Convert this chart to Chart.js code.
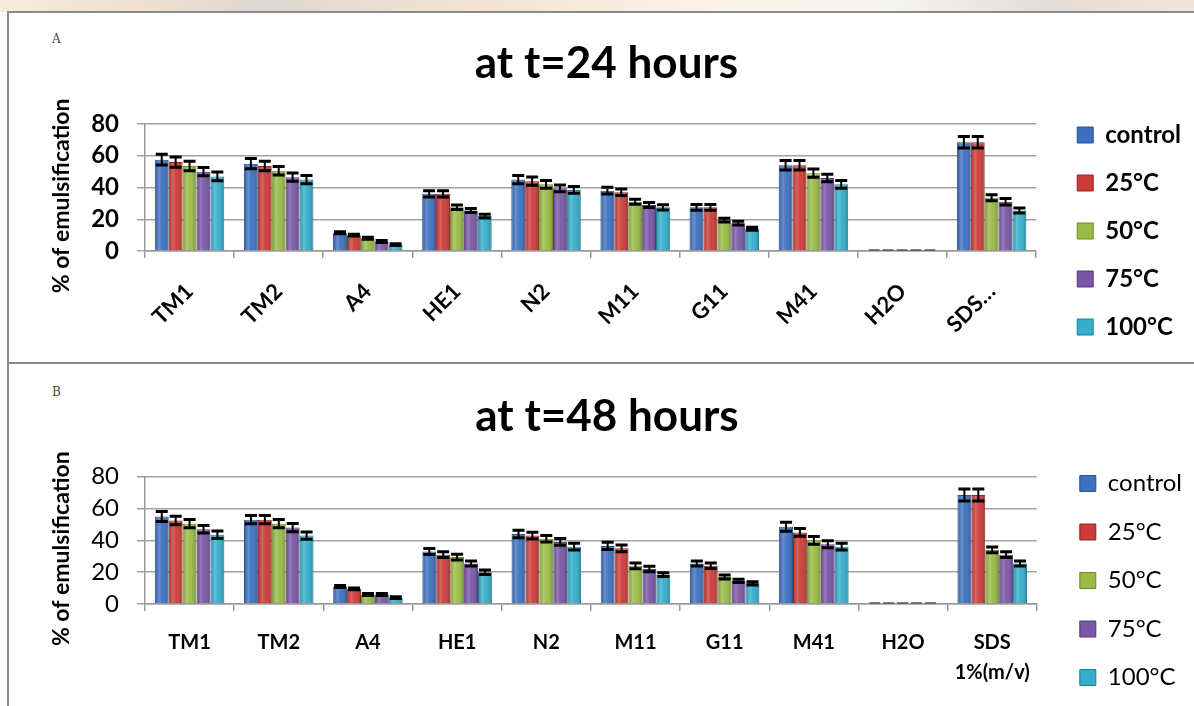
<!DOCTYPE html>
<html>
<head>
<meta charset="utf-8">
<script src="https://cdn.jsdelivr.net/npm/chart.js@4.4.1/dist/chart.umd.min.js"></script>
<style>
  html, body { margin: 0; padding: 0; width: 1194px; height: 706px; overflow: hidden; background: #fff; }
  #strip { position: absolute; left: 0; top: 0; width: 1194px; height: 12px;
    background: linear-gradient(90deg, #f6ecde 0%, #efe0cf 12%, #ded8d3 22%, #f3e4d2 40%, #fbf3ea 60%, #f7f3ef 75%, #e4dcd6 88%, #f0e6dc 100%); }
  .panel { position: absolute; left: 7px; width: 1190px; border-left: 2px solid #8a8a8a; border-top: 2px solid #8a8a8a; }
  #panelA { top: 11px; height: 350px; }
  #panelB { top: 362px; height: 344px; }
  canvas { position: absolute; left: 0; }
  #chartA { top: 0; }
  #chartB { top: 363px; }
  .tag { position: absolute; font-family: 'DejaVu Serif', serif; font-size: 12px; color: #444; }
</style>
</head>
<body>
<div id="strip"></div>
<div class="panel" id="panelA"></div>
<div class="panel" id="panelB"></div>
<div class="tag" style="left:52px; top:32px;">A</div>
<div class="tag" style="left:52px; top:385px;">B</div>
<canvas id="chartA" width="1194" height="363"></canvas>
<canvas id="chartB" width="1194" height="351"></canvas>
<script>
// categories
const labels24 = ['TM1', 'TM2', 'A4', 'HE1', 'N2', 'M11', 'G11', 'M41', 'H2O', 'SDS…'];
const labels48 = ['TM1', 'TM2', 'A4', 'HE1', 'N2', 'M11', 'G11', 'M41', 'H2O', ['SDS', '1%(m/v)']];
const seriesNames = ['control', '25°C', '50°C', '75°C', '100°C'];
const seriesColors = ['#3d70c0', '#cc3b36', '#98bb45', '#7956a6', '#33aecb'];
const seriesBorders = ['#27528f', '#922622', '#6d8a2c', '#553a7a', '#1f7f96'];
const yTicks = [0, 20, 40, 60, 80];

// t = 24 hours
const control24 = [57.5, 55, 11.5, 36, 45, 38, 27.5, 54, 0, 68.5];
const c25_24 = [56, 53.5, 10, 36, 44, 37, 27.5, 54, 0, 68.5];
const c50_24 = [53.5, 50.5, 8, 27.5, 42, 31, 19.5, 49, 0, 33.5];
const c75_24 = [50, 46.5, 6, 25.5, 39.5, 29, 17.5, 46, 0, 31];
const c100_24 = [47, 45, 4, 22, 38.5, 27.5, 14, 42, 0, 25.5];
const errControl24 = [3.4, 3.2, 0.6, 2, 2.6, 2.1, 1.8, 3, 0, 3.6];
const err25_24 = [3.2, 3, 0.6, 2, 2.6, 2.1, 1.8, 3, 0, 3.6];
const err50_24 = [3, 2.7, 0.6, 1.4, 2.4, 1.6, 1.2, 2.6, 0, 1.9];
const err75_24 = [2.6, 2.6, 0.6, 1.3, 2.1, 1.6, 1.2, 2.4, 0, 2];
const err100_24 = [2.7, 2.6, 0.6, 1.2, 2.1, 1.6, 1, 2.4, 0, 1.6];

// t = 48 hours
const control48 = [55, 53, 11, 33, 44, 36.5, 25.5, 48.5, 0, 68.5];
const c25_48 = [52.5, 53, 9.5, 31, 43, 35, 24, 45, 0, 68.5];
const c50_48 = [50.5, 50.5, 6, 29.5, 41, 24, 17, 40, 0, 34];
const c75_48 = [47, 48, 6, 25.5, 39, 22, 14.5, 37.5, 0, 31];
const c100_48 = [43.5, 43, 4, 20, 36, 18.5, 13, 36, 0, 25.5];
const errControl48 = [3.1, 2.6, 0.6, 1.9, 2.4, 2.3, 1.6, 2.8, 0, 3.7];
const err25_48 = [2.7, 2.6, 0.6, 1.8, 2.1, 2.1, 1.7, 2.5, 0, 3.7];
const err50_48 = [2.6, 2.6, 0.6, 1.8, 2.1, 1.8, 1.3, 2.4, 0, 1.8];
const err75_48 = [2.4, 2.6, 0.6, 1.6, 2.1, 1.7, 1, 2.2, 0, 1.8];
const err100_48 = [2.3, 2.3, 0.6, 1.4, 2.1, 1.2, 1, 2.1, 0, 1.6];

// shading + error bars drawn on top of the bars
const barExtras = {
  id: 'barExtras',
  afterDatasetsDraw(chart) {
    const ctx = chart.ctx;
    const yScale = chart.scales.y;
    chart.data.datasets.forEach((ds, i) => {
      const meta = chart.getDatasetMeta(i);
      meta.data.forEach((bar, j) => {
        const w = bar.width;
        const left = bar.x - w / 2;
        const h = bar.base - bar.y;
        if (h > 1) {
          const g = ctx.createLinearGradient(left, 0, left + w, 0);
          g.addColorStop(0, 'rgba(0,0,0,0.18)');
          g.addColorStop(0.3, 'rgba(255,255,255,0.22)');
          g.addColorStop(0.55, 'rgba(255,255,255,0.04)');
          g.addColorStop(1, 'rgba(0,0,0,0.28)');
          ctx.save();
          ctx.fillStyle = g;
          ctx.fillRect(left + 1, bar.y + 1, w - 2, h - 1);
          ctx.restore();
        }
        const v = ds.data[j];
        const e = ds.errors[j];
        ctx.save();
        ctx.strokeStyle = '#000';
        if (v === 0 && e === 0) {
          ctx.strokeStyle = '#555';
          ctx.lineWidth = 1.5;
          ctx.beginPath();
          ctx.moveTo(left + 1, bar.base - 1);
          ctx.lineTo(left + w - 2, bar.base - 1);
          ctx.stroke();
          ctx.restore();
          return;
        }
        const yTop = yScale.getPixelForValue(v + e);
        const yBot = yScale.getPixelForValue(v - e);
        ctx.lineWidth = 2;
        ctx.beginPath();
        ctx.moveTo(bar.x, yTop);
        ctx.lineTo(bar.x, yBot);
        ctx.stroke();
        ctx.lineWidth = 3;
        ctx.beginPath();
        ctx.moveTo(bar.x - 6, yTop);
        ctx.lineTo(bar.x + 6, yTop);
        ctx.moveTo(bar.x - 6, yBot);
        ctx.lineTo(bar.x + 6, yBot);
        ctx.stroke();
        ctx.restore();
      });
    });
  }
};

function buildDatasets(values, errors) {
  return seriesNames.map((name, i) => ({
    label: name,
    data: values[i],
    errors: errors[i],
    backgroundColor: seriesColors[i],
    borderColor: seriesBorders[i],
    borderWidth: 1,
    barPercentage: 1,
    categoryPercentage: 0.78
  }));
}

function createPanelChart(id, opts) {
  const ctx = document.getElementById(id);
  const bold = opts.bold ? 'bold' : 'normal';
  return new Chart(ctx, {
    type: 'bar',
    data: {
      labels: opts.labels,
      datasets: buildDatasets(opts.values, opts.errors)
    },
    plugins: [barExtras],
    options: {
      responsive: false,
      animation: false,
      devicePixelRatio: 1,
      layout: { padding: { left: 22, right: opts.padRight, top: 0, bottom: 0 } },
      plugins: {
        title: {
          display: true,
          text: opts.title,
          color: '#000',
          font: { family: 'Lato', size: 44, weight: 'bold', lineHeight: 1.2 },
          padding: opts.titlePadding
        },
        legend: {
          position: 'right',
          align: 'end',
          labels: {
            color: '#000',
            boxWidth: 16,
            boxHeight: 16,
            padding: opts.legendPadding,
            font: { family: 'Lato', size: 24, weight: bold }
          }
        },
        tooltip: { enabled: false }
      },
      scales: {
        x: {
          grid: { display: true, drawOnChartArea: false, drawTicks: true, tickLength: 7, offset: true, color: '#999', lineWidth: 1.5 },
          border: { display: true, color: '#999', width: 1.5 },
          ticks: {
            color: '#000',
            autoSkip: false,
            maxRotation: opts.rotation,
            minRotation: opts.rotation,
            padding: opts.xPad,
            font: { family: 'Lato', size: opts.xFont, weight: 'bold', lineHeight: 1.5 }
          },
          afterFit: s => { s.height = opts.xHeight; }
        },
        y: {
          min: 0,
          max: 80,
          afterBuildTicks: s => { s.ticks = yTicks.map(v => ({ value: v })); },
          grid: { color: '#a2a2a2', lineWidth: 1.5, tickLength: 8 },
          border: { display: true, color: '#999', width: 1.5 },
          ticks: {
            color: '#000',
            autoSkip: false,
            padding: 18,
            font: { family: 'Lato', size: 24, weight: bold }
          },
          title: {
            display: true,
            text: '% of emulsification\u00a0\u00a0\u00a0',
            color: '#000',
            padding: { top: 26, bottom: 0 },
            font: { family: 'Lato', size: 23, weight: 'bold', lineHeight: 1.2 }
          },
          afterFit: s => { s.width = 123; }
        },
        gap: {
          position: 'right',
          display: true,
          grid: { display: false },
          border: { display: false },
          ticks: { display: false },
          afterFit: s => { s.width = opts.gap; }
        }
      }
    }
  });
}

createPanelChart('chartA', {
  labels: labels24,
  values: [control24, c25_24, c50_24, c75_24, c100_24],
  errors: [errControl24, err25_24, err50_24, err75_24, err100_24],
  title: 'at t=24 hours',
  titlePadding: { top: 37.6, bottom: 33.6 },
  bold: true,
  padRight: 3,
  gap: 17,
  legendPadding: 24,
  rotation: 45,
  xPad: 18,
  xFont: 22,
  xHeight: 112
});

createPanelChart('chartB', {
  labels: labels48,
  values: [control48, c25_48, c50_48, c75_48, c100_48],
  errors: [errControl48, err25_48, err50_48, err75_48, err100_48],
  title: 'at t=48 hours',
  titlePadding: { top: 27.6, bottom: 33.3 },
  bold: false,
  padRight: 2,
  gap: 18.5,
  legendPadding: 24.5,
  rotation: 0,
  xPad: 17,
  xFont: 20,
  xHeight: 110
});
</script>
</body>
</html>
